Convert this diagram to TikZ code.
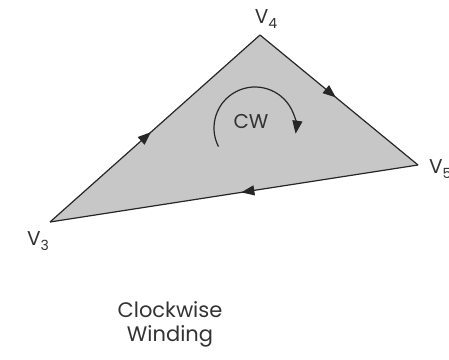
\documentclass[tikz,border=0pt]{standalone}
\usepackage{fontspec}
\setmainfont{Poppins}
\usetikzlibrary{arrows.meta, decorations.markings}

\newcommand{\vsub}[1]{\raisebox{-0.45ex}{\fontsize{14}{14}\selectfont #1}}

\tikzset{
    midarrow/.style = {decoration = {markings, mark = at position 0.48 with {\arrow{Triangle[length=13pt, width=10pt]}}}, postaction = decorate},
    vlabel/.style = {font = \fontsize{20}{24}\selectfont, text = black!80, inner sep = 0pt}
}

\begin{document}
\begin{tikzpicture}[x=1pt, y=1pt]
        \useasboundingbox (0,0) rectangle (449,359);

        %頂点
        \coordinate (v3) at (50,137);
        \coordinate (v4) at (260,324);
        \coordinate (v5) at (418,194);

        %三角形
        \fill[black!22] (v3) -- (v4) -- (v5) -- cycle;
        \draw[midarrow, line width = 1.2pt, black!85] (v3) -- (v4);
        \draw[midarrow, line width = 1.2pt, black!85] (v4) -- (v5);
        \draw[midarrow, line width = 1.2pt, black!85] (v5) -- (v3);

        %ラベル
        \node[vlabel] (l4) at (266,340) {V\vsub{4}};
        \node[vlabel] (l3) at (38,118) {V\vsub{3}};
        \node[vlabel, anchor = west] (l5) at (429,190) {V\vsub{5}}; %右端で切れる

        %回転の向き
        \node[vlabel] (cw) at (251,237) {CW};
        \draw[-{Triangle[length=13pt, width=10pt]}, line width = 1.2pt, black!85] (255,231) ++(207:41) arc[start angle = 207, end angle = -8, radius = 41];

        \node[vlabel, font = \fontsize{21}{24}\selectfont, align = center] (title) at (170,35) {Clockwise\\[0pt]Winding};
    \end{tikzpicture}
\end{document}
